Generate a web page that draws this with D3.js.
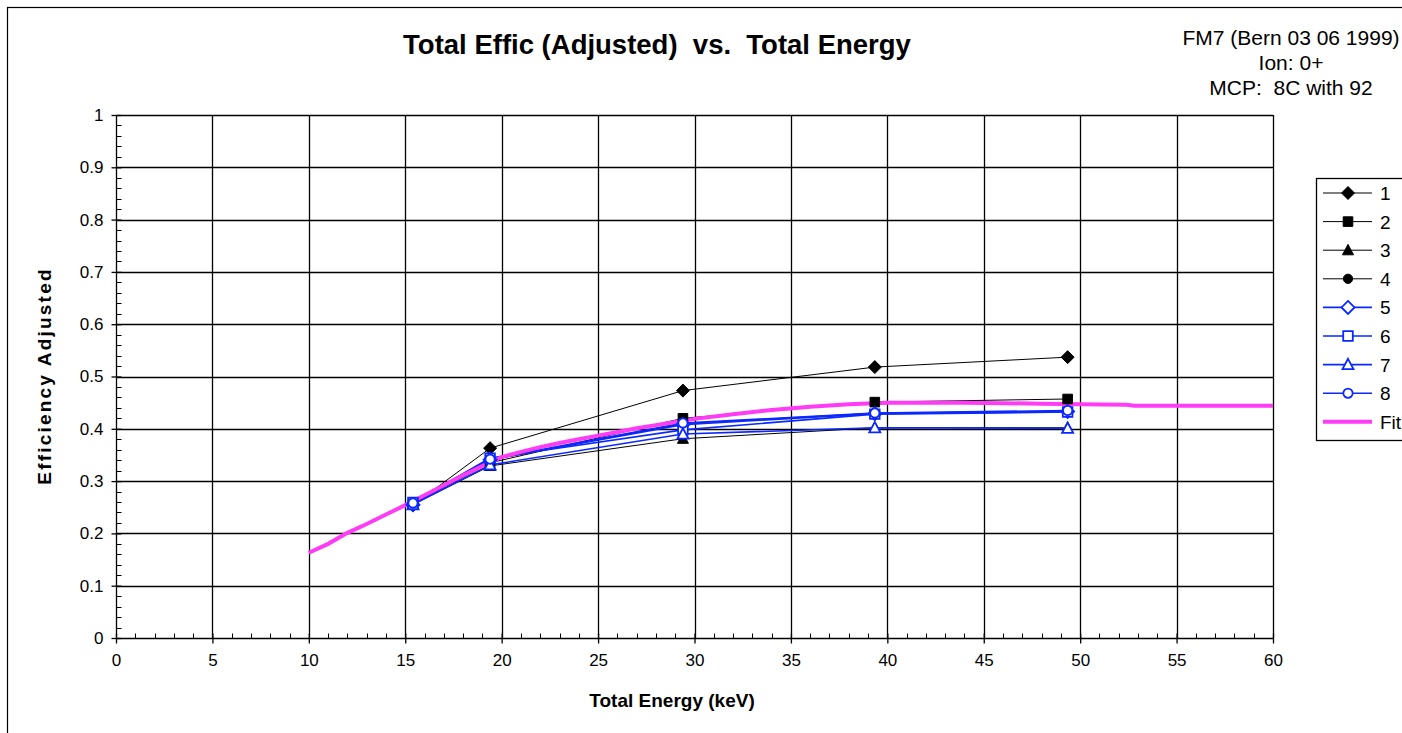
<!DOCTYPE html>
<html>
<head>
<meta charset="utf-8">
<script src="https://cdn.jsdelivr.net/npm/d3@7"></script>
<style>
  html, body { margin: 0; padding: 0; background: #fff; }
  svg { display: block; }
  text { font-family: Arial, "Liberation Sans", sans-serif; fill: #000; }
</style>
</head>
<body>
<script>
// Measured energies (keV)
const energies = [15.4, 19.4, 29.4, 39.35, 49.35];

// Efficiency (adjusted) per run
const s1 = [0.254, 0.363, 0.473, 0.518, 0.537];
const s2 = [0.256, 0.335, 0.420, 0.451, 0.457];
const s3 = [0.255, 0.329, 0.381, 0.402, 0.402];
const s4 = [0.258, 0.340, 0.410, 0.430, 0.434];
const s5 = [0.255, 0.341, 0.408, 0.429, 0.433];
const s6 = [0.259, 0.344, 0.398, 0.428, 0.432];
const s7 = [0.255, 0.331, 0.390, 0.402, 0.401];
const s8 = [0.258, 0.342, 0.411, 0.430, 0.435];

// Fit curve
const fitX = [10, 11, 12, 13, 14, 15, 16, 17, 18, 19, 20, 21, 22, 23, 24, 25, 26, 27, 28, 29, 30, 32, 34, 36, 38, 40, 42, 44, 46, 48, 50, 52.4, 52.8, 55, 60];
const fitY = [0.163, 0.180, 0.201, 0.218, 0.236, 0.254, 0.273, 0.292, 0.311, 0.329, 0.346, 0.356, 0.365, 0.373, 0.380, 0.387, 0.394, 0.401, 0.407, 0.413, 0.419, 0.428, 0.436, 0.442, 0.447, 0.450, 0.450, 0.450, 0.449, 0.448, 0.447, 0.446, 0.444, 0.444, 0.444];

const seriesNames = ["1", "2", "3", "4", "5", "6", "7", "8"];
const seriesValues = [s1, s2, s3, s4, s5, s6, s7, s8];

const xTicks = [0, 5, 10, 15, 20, 25, 30, 35, 40, 45, 50, 55, 60];
const yTicks = [0, 0.1, 0.2, 0.3, 0.4, 0.5, 0.6, 0.7, 0.8, 0.9, 1];

const W = 1402, H = 733;
const plot = { left: 116, right: 1273, top: 115, bottom: 638 };

const black = "#000", blue = "#0a28ff", magenta = "#ff3cf5";
const styles = [
  { color: black, shape: "diamond", fill: black, width: 1 },
  { color: black, shape: "square", fill: black, width: 1 },
  { color: black, shape: "triangle", fill: black, width: 1 },
  { color: black, shape: "circle", fill: black, width: 1 },
  { color: blue, shape: "diamond", fill: "#fff", width: 1.6 },
  { color: blue, shape: "square", fill: "#fff", width: 1.6 },
  { color: blue, shape: "triangle", fill: "#fff", width: 1.6 },
  { color: blue, shape: "circle", fill: "#fff", width: 1.6 }
];

const svg = d3.select("body").append("svg").attr("width", W).attr("height", H);

// outer chart frame
svg.append("rect").attr("x", 7.5).attr("y", 7.5).attr("width", W + 20).attr("height", H + 20)
  .attr("fill", "none").attr("stroke", "#000").attr("stroke-width", 1.2);

const x = d3.scaleLinear().domain([0, 60]).range([plot.left, plot.right]);
const y = d3.scaleLinear().domain([0, 1]).range([plot.bottom, plot.top]);

// grid
const grid = svg.append("g").attr("stroke", "#000").attr("stroke-width", 1.3);
grid.selectAll("line.v").data(xTicks.filter(d => d > 0)).join("line")
  .attr("x1", d => Math.round(x(d)) + 0.5).attr("x2", d => Math.round(x(d)) + 0.5)
  .attr("y1", plot.top).attr("y2", plot.bottom);
grid.selectAll("line.h").data(yTicks.filter(d => d > 0)).join("line")
  .attr("y1", d => Math.round(y(d)) + 0.5).attr("y2", d => Math.round(y(d)) + 0.5)
  .attr("x1", plot.left).attr("x2", plot.right);

const tickFont = 17;

// x axis with major ticks crossing and minor ticks inside
const xAxis = d3.axisBottom(x).tickValues(xTicks).tickSize(5).tickPadding(10).tickFormat(d3.format("d"));
const gx = svg.append("g").attr("transform", `translate(0,${plot.bottom + 0.5})`).call(xAxis);
gx.select(".domain").attr("stroke-width", 1.3).attr("d", `M${plot.left},0H${plot.right}`);
gx.selectAll(".tick line").attr("y1", -5).attr("stroke-width", 1.3);
gx.selectAll(".tick text").attr("font-size", tickFont).attr("font-family", "Arial, 'Liberation Sans', sans-serif");
const xMinor = d3.range(0, 61, 1).filter(d => d % 5 !== 0);
gx.append("g").selectAll("line").data(xMinor).join("line")
  .attr("x1", d => Math.round(x(d)) + 0.5).attr("x2", d => Math.round(x(d)) + 0.5)
  .attr("y1", 0).attr("y2", -5).attr("stroke", "#000").attr("stroke-width", 1);

// y axis
const yAxis = d3.axisLeft(y).tickValues(yTicks).tickSize(5).tickPadding(8).tickFormat(d => d === 0 || d === 1 ? d3.format("d")(d) : d3.format(".1f")(d));
const gy = svg.append("g").attr("transform", `translate(${plot.left + 0.5},0)`).call(yAxis);
gy.select(".domain").attr("stroke-width", 1.3).attr("d", `M0,${plot.top}V${plot.bottom}`);
gy.selectAll(".tick line").attr("x1", 5).attr("stroke-width", 1.3);
gy.selectAll(".tick text").attr("font-size", tickFont).attr("font-family", "Arial, 'Liberation Sans', sans-serif");
const yMinor = d3.range(0, 51, 1).filter(d => d % 5 !== 0).map(d => d / 50);
gy.append("g").selectAll("line").data(yMinor).join("line")
  .attr("y1", d => Math.round(y(d)) + 0.5).attr("y2", d => Math.round(y(d)) + 0.5)
  .attr("x1", 0).attr("x2", 5).attr("stroke", "#000").attr("stroke-width", 1);

// symbol helpers
function symbolPath(shape) {
  if (shape === "diamond") return "M0,-6.5L6.5,0L0,6.5L-6.5,0Z";
  if (shape === "square") return "M-4.8,-4.8H4.8V4.8H-4.8Z";
  if (shape === "triangle") return "M0,-5.8L5.5,4.6H-5.5Z";
  return d3.symbol().type(d3.symbolCircle).size(68)();
}
function drawMarker(g, st, cx, cy) {
  g.append("path").attr("d", symbolPath(st.shape))
    .attr("transform", `translate(${cx},${cy})`)
    .attr("fill", st.fill).attr("stroke", st.color).attr("stroke-width", st.fill === "#fff" ? 1.8 : 1);
}

const line = d3.line().x(d => x(d[0])).y(d => y(d[1]));

// series lines
const data = seriesValues.map(v => energies.map((e, i) => [e, v[i]]));
const lines = svg.append("g").attr("fill", "none");
data.forEach((pts, i) => {
  lines.append("path").attr("d", line(pts)).attr("stroke", styles[i].color).attr("stroke-width", styles[i].width);
});

// fit curve
svg.append("path").attr("d", line(fitX.map((v, i) => [v, fitY[i]])))
  .attr("fill", "none").attr("stroke", magenta).attr("stroke-width", 4);

// markers
const mk = svg.append("g");
data.forEach((pts, i) => pts.forEach(p => drawMarker(mk, styles[i], x(p[0]), y(p[1]))));

// titles
svg.append("text").attr("x", 657).attr("y", 54).attr("text-anchor", "middle")
  .attr("font-size", 27.5).attr("font-weight", "bold").attr("xml:space", "preserve")
  .text("Total Effic (Adjusted)  vs.  Total Energy");

const info = ["FM7 (Bern 03 06 1999)", "Ion: 0+", "MCP:  8C with 92"];
svg.append("g").selectAll("text").data(info).join("text")
  .attr("x", 1291).attr("y", (d, i) => 45 + i * 25).attr("text-anchor", "middle")
  .attr("font-size", 21).attr("xml:space", "preserve").text(d => d);

svg.append("text").attr("x", 672).attr("y", 707).attr("text-anchor", "middle")
  .attr("font-size", 19).attr("font-weight", "bold").text("Total Energy (keV)");

svg.append("text").attr("transform", "translate(51,376) rotate(-90)").attr("text-anchor", "middle")
  .attr("font-size", 19).attr("font-weight", "bold").attr("letter-spacing", 2.2)
  .text("Efficiency Adjusted");

// legend
const lg = svg.append("g");
lg.append("rect").attr("x", 1316.5).attr("y", 178.5).attr("width", 120).attr("height", 262)
  .attr("fill", "#fff").attr("stroke", "#000").attr("stroke-width", 1.3);
const rowY = i => 193 + i * 28.6;
seriesNames.forEach((name, i) => {
  const st = styles[i];
  lg.append("line").attr("x1", 1323).attr("x2", 1372).attr("y1", rowY(i)).attr("y2", rowY(i))
    .attr("stroke", st.color).attr("stroke-width", st.width);
  drawMarker(lg, st, 1348, rowY(i));
  lg.append("text").attr("x", 1380).attr("y", rowY(i) + 7).attr("font-size", 19).text(name);
});
lg.append("line").attr("x1", 1323).attr("x2", 1372).attr("y1", rowY(8)).attr("y2", rowY(8))
  .attr("stroke", magenta).attr("stroke-width", 4);
lg.append("text").attr("x", 1380).attr("y", rowY(8) + 7).attr("font-size", 19).text("Fit");
</script>
</body>
</html>
